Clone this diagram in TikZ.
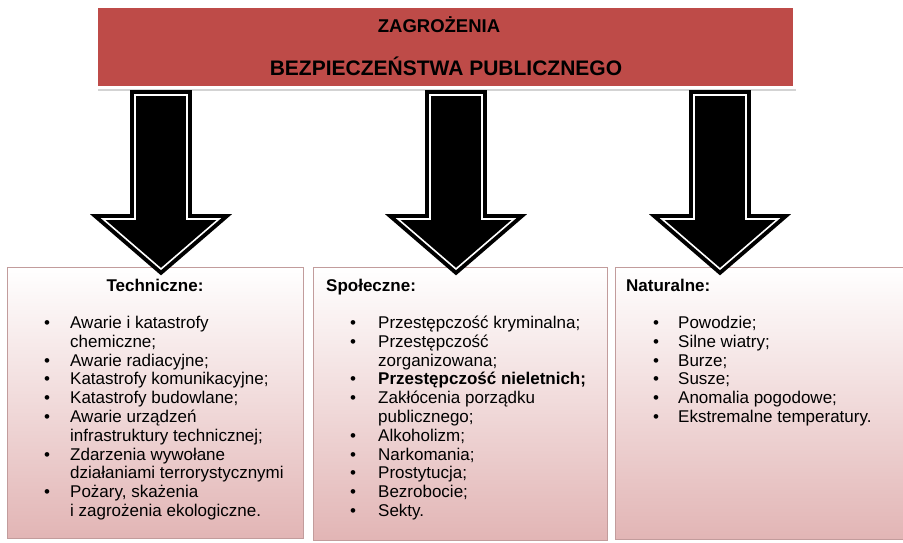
\documentclass[tikz,border=0pt]{standalone}
\usepackage{fontspec}
\setmainfont{Liberation Sans}
\usetikzlibrary{calc,shadows}
\definecolor{bannerred}{HTML}{BE4B48}
\definecolor{boxpink}{HTML}{E2B5B5}
\definecolor{boxline}{HTML}{C29C9C}
\newcommand{\pkt}{\textbullet}
\newcommand{\blockarrow}[2]{%
	\path[blockarr] let \p1=(#1), \p2=(#2) in
		(\x1-26pt,\y1) -- (\x1+26pt,\y1) -- (\x1+26pt,\y2+50pt) -- (\x1+58pt,\y2+50pt)
		-- (\x2,\y2) -- (\x1-58pt,\y2+50pt) -- (\x1-26pt,\y2+50pt) -- cycle;}
\tikzset{
	banner/.style={rectangle, draw=white, line width=3pt, fill=bannerred, inner sep=0pt,
		drop shadow={shadow xshift=1.5pt, shadow yshift=-3pt, opacity=.35}},
	bannertext/.style={font=\bfseries, inner sep=0pt, anchor=base},
	group/.style={rectangle, draw=boxline, line width=0.8pt, top color=white, bottom color=boxpink,
		inner sep=0pt, anchor=north west},
	heading/.style={font=\fontsize{17}{20}\selectfont\bfseries, inner sep=0pt},
	itemlist/.style={font=\fontsize{17}{18.8}\selectfont, inner sep=0pt, anchor=base west},
	blockarr/.style={fill=black, draw=black, line width=4pt, double=white, double distance=1.6pt,
		line join=miter}
}
\begin{document}
\begin{tikzpicture}[x=1pt, y=-1pt]
	\useasboundingbox (0,0) rectangle (903,542);
	\node[banner, minimum width=698pt, minimum height=81pt] (zagr) at (445.5,47) {};
	\node[bannertext, font=\fontsize{18.5}{22}\selectfont\bfseries] (zagr1) at (439,32) {ZAGROŻENIA};
	\node[bannertext, font=\fontsize{21}{24}\selectfont\bfseries] (zagr2) at (446,75) {BEZPIECZEŃSTWA PUBLICZNEGO};

	\node[group, minimum width=296pt, minimum height=271pt] (tech) at (7,267) {};
	\node[group, minimum width=294pt, minimum height=273pt] (spol) at (313,267) {};
	\node[group, minimum width=293pt, minimum height=272pt] (natu) at (615,267) {};

	\node[heading, anchor=base] (techh) at (155,291) {Techniczne:};
	\node[heading, anchor=base west] (spolh) at (326,291) {Społeczne:};
	\node[heading, anchor=base west] (natuh) at (626,291) {Naturalne:};

	\node[itemlist] (techl) at (44,328.5) {\begin{tabular}[t]{@{}p{26pt}@{}l@{}}
		\pkt & Awarie i katastrofy\\
		& chemiczne;\\
		\pkt & Awarie radiacyjne;\\
		\pkt & Katastrofy komunikacyjne;\\
		\pkt & Katastrofy budowlane;\\
		\pkt & Awarie urządzeń\\
		& infrastruktury technicznej;\\
		\pkt & Zdarzenia wywołane\\
		& działaniami terrorystycznymi\\
		\pkt & Pożary, skażenia\\
		& i zagrożenia ekologiczne.
	\end{tabular}};
	\node[itemlist] (spoll) at (350,328.5) {\begin{tabular}[t]{@{}p{28pt}@{}l@{}}
		\pkt & Przestępczość kryminalna;\\
		\pkt & Przestępczość\\
		& zorganizowana;\\
		\pkt & \textbf{Przestępczość nieletnich;}\\
		\pkt & Zakłócenia porządku\\
		& publicznego;\\
		\pkt & Alkoholizm;\\
		\pkt & Narkomania;\\
		\pkt & Prostytucja;\\
		\pkt & Bezrobocie;\\
		\pkt & Sekty.
	\end{tabular}};
	\node[itemlist] (natul) at (653,328.5) {\begin{tabular}[t]{@{}p{25pt}@{}l@{}}
		\pkt & Powodzie;\\
		\pkt & Silne wiatry;\\
		\pkt & Burze;\\
		\pkt & Susze;\\
		\pkt & Anomalia pogodowe;\\
		\pkt & Ekstremalne temperatury.
	\end{tabular}};

	\coordinate (s1) at (161,95);
	\coordinate (t1) at (161,269);
	\coordinate (s2) at (456,95);
	\coordinate (t2) at (456,269);
	\coordinate (s3) at (720,95);
	\coordinate (t3) at (720,269);
	\blockarrow{s1}{t1}
	\blockarrow{s2}{t2}
	\blockarrow{s3}{t3}
\end{tikzpicture}
\end{document}
